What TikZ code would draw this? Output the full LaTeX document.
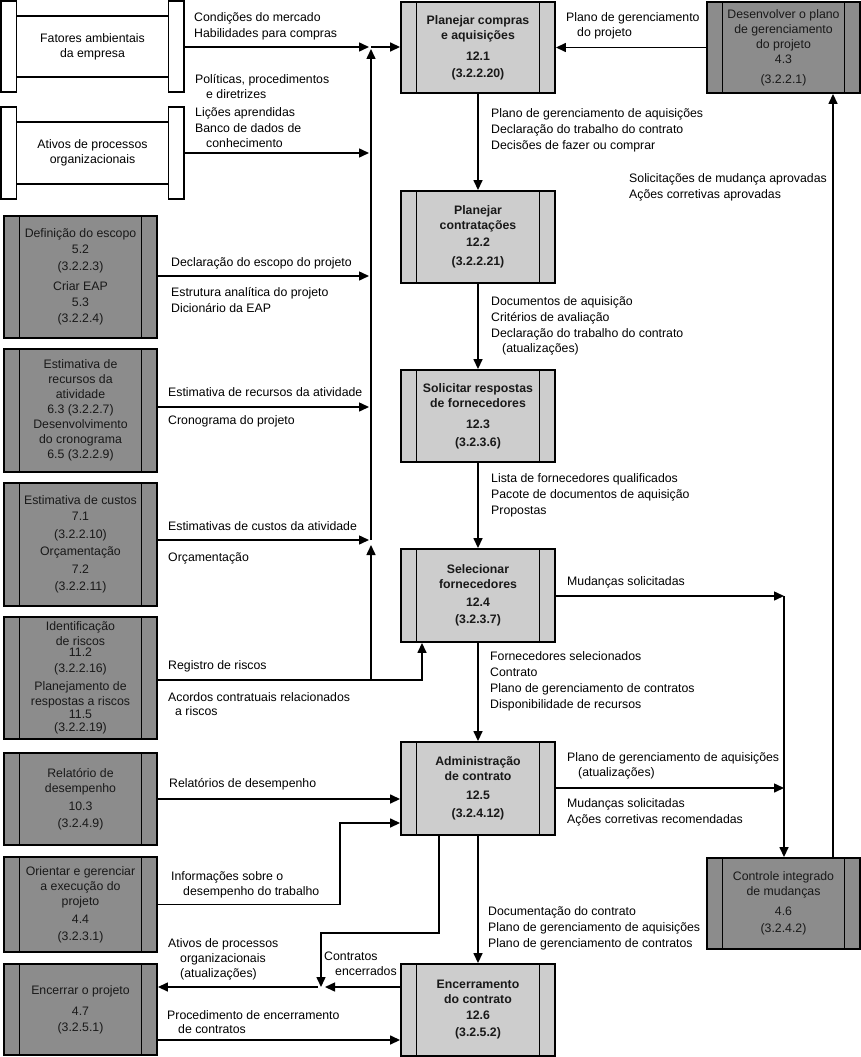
\documentclass[tikz,border=0pt]{standalone}
\usepackage{fontspec}
\setmainfont{Liberation Sans}
\usetikzlibrary{arrows.meta}

\definecolor{darkbox}{RGB}{140,140,140}
\definecolor{lightbox}{RGB}{205,205,205}
\newcommand\lblfont{\fontsize{12.3}{16}\selectfont}
\newcommand\boxfont{\fontsize{12.3}{15}\selectfont}

\tikzset{
  proc/.style={draw, line width=1.9pt, fill=darkbox, inner sep=0pt, align=center,
    minimum width=153pt, font=\boxfont, text=black!90,
    path picture={\draw[line width=1.6pt]
      ([xshift=15.5pt]path picture bounding box.north west) -- ([xshift=15.5pt]path picture bounding box.south west)
      ([xshift=-15.5pt]path picture bounding box.north east) -- ([xshift=-15.5pt]path picture bounding box.south east);}},
  proclight/.style={proc, fill=lightbox, minimum width=154pt, font=\boxfont\bfseries},
  entity/.style={inner sep=0pt, align=center, minimum width=183pt, font=\boxfont,
    append after command={\pgfextra{\draw[line width=1.5pt]
      (\tikzlastnode.north west) rectangle ([xshift=15.5pt]\tikzlastnode.south west)
      ([xshift=-15.5pt]\tikzlastnode.north east) rectangle (\tikzlastnode.south east)
      ([xshift=15.5pt,yshift=-15pt]\tikzlastnode.north west) -- ([xshift=-15.5pt,yshift=-15pt]\tikzlastnode.north east)
      ([xshift=15.5pt,yshift=15pt]\tikzlastnode.south west) -- ([xshift=-15.5pt,yshift=15pt]\tikzlastnode.south east);}}},
  lbl/.style={anchor=north west, inner sep=0pt, align=left, font=\lblfont},
  arr/.style={line width=1.5pt, -{Triangle[length=10pt,width=9pt]}},
}

\begin{document}
\begin{tikzpicture}[x=1pt,y=-1pt]
\useasboundingbox (0,0) rectangle (861,1057);

\node[entity, minimum height=91pt] (fatores) at (92.5,46.5) {Fatores ambientais\\da empresa};
\node[entity, minimum height=92pt] (ativos) at (92.5,153) {Ativos de processos\\organizacionais};

\node[proc, minimum height=122pt] (p52) at (80.5,277)
  {Definição do escopo\\[1pt]5.2\\[2pt](3.2.2.3)\\[5pt]Criar EAP\\[1pt]5.3\\[1pt](3.2.2.4)};
\node[proc, minimum height=123pt] (p63) at (80.5,410.5)
  {Estimativa de\\recursos da\\atividade\\6.3 (3.2.2.7)\\Desenvolvimento\\do cronograma\\6.5 (3.2.2.9)};
\node[proc, minimum height=123pt] (p71) at (80.5,544.5)
  {Estimativa de custos\\[1pt]7.1\\[3pt](3.2.2.10)\\[2pt]Orçamentação\\[3pt]7.2\\[2pt](3.2.2.11)};
\node[proc, minimum height=122pt] (p112) at (80.5,678)
  {Identificação\\de riscos\\[-4pt]11.2\\[1pt](3.2.2.16)\\[3pt]Planejamento de\\respostas a riscos\\[-2pt]11.5\\[-2pt](3.2.2.19)};
\node[proc, minimum height=92pt] (p103) at (80.5,799)
  {Relatório de\\desempenho\\[3pt]10.3\\[2pt](3.2.4.9)};
\node[proc, minimum height=95pt] (p44) at (80.5,904.5)
  {Orientar e gerenciar\\a execução do\\projeto\\[3pt]4.4\\[2pt](3.2.3.1)};
\node[proc, minimum height=91pt] (p47) at (80.5,1009.5)
  {Encerrar o projeto\\[6pt]4.7\\[1pt](3.2.5.1)};

\node[proclight, minimum height=91pt] (p121) at (478,47.5)
  {Planejar compras\\e aquisições\\[6pt]12.1\\[2pt](3.2.2.20)};
\node[proclight, minimum height=92pt] (p122) at (478,237)
  {Planejar\\contratações\\[2pt]12.2\\[4pt](3.2.2.21)};
\node[proclight, minimum height=92pt] (p123) at (478,416)
  {Solicitar respostas\\de fornecedores\\[6pt]12.3\\[3pt](3.2.3.6)};
\node[proclight, minimum height=93pt] (p124) at (478,595.5)
  {Selecionar\\fornecedores\\[3pt]12.4\\[2pt](3.2.3.7)};
\node[proclight, minimum height=93pt] (p125) at (478,788.5)
  {Administração\\de contrato\\[4pt]12.5\\[3pt](3.2.4.12)};
\node[proclight, minimum height=92pt] (p126) at (478,1010)
  {Encerramento\\do contrato\\[1pt]12.6\\[2pt](3.2.5.2)};

\node[proc, minimum height=91pt] (p43) at (783.5,47.5)
  {Desenvolver o plano\\de gerenciamento\\do projeto\\4.3\\[5pt](3.2.2.1)};
\node[proc, minimum height=91pt] (p46) at (783.5,903.5)
  {Controle integrado\\de mudanças\\[5pt]4.6\\[2pt](3.2.4.2)};

\coordinate (bfat) at (371,47);
\coordinate (bati) at (371,153);
\coordinate (besc) at (371,276);
\coordinate (brec) at (371,407);
\coordinate (bcus) at (371,540);
\coordinate (bris) at (371,680);
\coordinate (bchg) at (784,596);
\coordinate (badm) at (784,788);
\coordinate (kinf) at (340,823);
\coordinate (kcl) at (321,933);
\coordinate (jcl) at (321,987);

\draw[arr, shorten >=2pt] (fatores.east |- bfat) -- (bfat);
\draw[arr, shorten >=2pt] (ativos.east |- bati) -- (bati);
\draw[arr, shorten >=2pt] (p52.east |- besc) -- (besc);
\draw[arr, shorten >=2pt] (p63.east |- brec) -- (brec);
\draw[arr, shorten >=2pt] (p71.east |- bcus) -- (bcus);
\draw[arr, shorten >=2pt] (bcus) -- (bfat);
\draw[arr, shorten >=5pt] (bris) -- (bcus);
\draw[arr] (p112.east |- bris) -| ([xshift=-56pt]p124.south);
\draw[arr] (bfat) -- (p121.west |- bfat);
\draw[arr] (p43.west) -- (p121.east);

\draw[arr] (p121) -- (p122);
\draw[arr] (p122) -- (p123);
\draw[arr] (p123) -- (p124);
\draw[arr] (p124) -- (p125);
\draw[arr] (p125) -- (p126);

\draw[arr] (p124.east |- bchg) -- (bchg);
\draw[arr] (bchg) -- (p46.north -| bchg);
\draw[arr] (p125.east |- badm) -- (badm);
\draw[arr] ([xshift=49.5pt]p46.north) -- ([xshift=49.5pt]p43.south);

\draw[arr] (p103.east) -- (p125.west |- p103.east);
\draw[arr] (p44.east) -| (kinf) -- (kinf -| p125.west);
\draw[arr] ([xshift=-39pt]p125.south) |- (kcl) -- (jcl);
\draw[arr, shorten >=4pt] (p126.west |- jcl) -- (jcl);
\draw[arr, shorten <=3pt] (jcl) -- (p47.east |- jcl);
\draw[arr] ([yshift=-30.5pt]p47.east) -- ([yshift=-30.5pt]p47.east -| p126.west);

\node[lbl] (lmerc) at (194,12) {Condições do mercado\\Habilidades para compras};
\node[lbl] (lpol) at (195,74) {Políticas, procedimentos\\[-1pt]\hspace*{11pt}e diretrizes\\[2pt]Lições aprendidas\\Banco de dados de\\[-1pt]\hspace*{11pt}conhecimento};
\node[lbl] (lesc) at (171,257) {Declaração do escopo do projeto};
\node[lbl] (leap) at (171,287) {Estrutura analítica do projeto\\Dicionário da EAP};
\node[lbl] (lrec) at (168,387) {Estimativa de recursos da atividade};
\node[lbl] (lcro) at (168,415) {Cronograma do projeto};
\node[lbl] (lcus) at (168,521) {Estimativas de custos da atividade};
\node[lbl] (lorc) at (168,552) {Orçamentação};
\node[lbl] (lreg) at (168,660) {Registro de riscos};
\node[lbl] (lacd) at (168,692) {Acordos contratuais relacionados\\[-2pt]\hspace*{7pt}a riscos};
\node[lbl] (lrel) at (169,778) {Relatórios de desempenho};
\node[lbl] (linf) at (171,871) {Informações sobre o\\[-1pt]\hspace*{12pt}desempenho do trabalho};
\node[lbl] (lati) at (168,938) {Ativos de processos\\[-1pt]\hspace*{12pt}organizacionais\\[-1pt]\hspace*{12pt}(atualizações)};
\node[lbl] (lproc) at (167,1010) {Procedimento de encerramento\\[-2pt]\hspace*{11pt}de contratos};
\node[lbl] (lcon) at (324,952) {Contratos\\[-1pt]\hspace*{11pt}encerrados};

\node[lbl] (lpgp) at (566,12) {Plano de gerenciamento\\[-1pt]\hspace*{11pt}do projeto};
\node[lbl] (lpga) at (491,108) {Plano de gerenciamento de aquisições\\Declaração do trabalho do contrato\\Decisões de fazer ou comprar};
\node[lbl] (lapr) at (629,173) {Solicitações de mudança aprovadas\\Ações corretivas aprovadas};
\node[lbl] (ldoc) at (491,296) {Documentos de aquisição\\Critérios de avaliação\\Declaração do trabalho do contrato\\[-1pt]\hspace*{11pt}(atualizações)};
\node[lbl] (llst) at (491,473) {Lista de fornecedores qualificados\\Pacote de documentos de aquisição\\Propostas};
\node[lbl] (lmud) at (567,576) {Mudanças solicitadas};
\node[lbl] (lfor) at (490,651) {Fornecedores selecionados\\Contrato\\Plano de gerenciamento de contratos\\Disponibilidade de recursos};
\node[lbl] (lpat) at (567,752) {Plano de gerenciamento de aquisições\\[-1pt]\hspace*{11pt}(atualizações)};
\node[lbl] (lmsc) at (567,798) {Mudanças solicitadas\\Ações corretivas recomendadas};
\node[lbl] (ldct) at (488,906) {Documentação do contrato\\Plano de gerenciamento de aquisições\\Plano de gerenciamento de contratos};
\end{tikzpicture}
\end{document}
